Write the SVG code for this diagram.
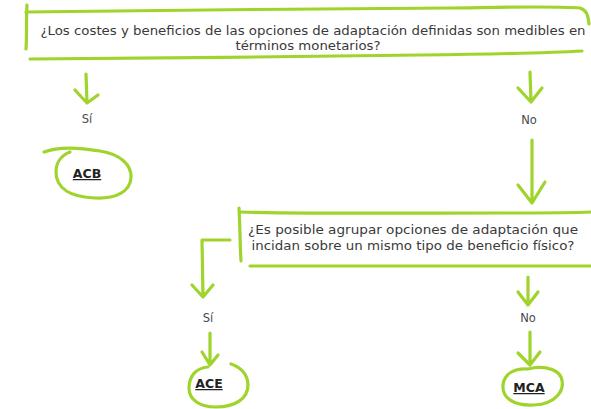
<svg xmlns="http://www.w3.org/2000/svg" width="591" height="409" viewBox="0 0 591 409">
<style>
.ln{fill:none;stroke:#9fd42c;stroke-width:3.2;stroke-linecap:round;stroke-linejoin:round}
.q{font-family:"DejaVu Sans","Liberation Sans",sans-serif;font-size:12.5px;fill:#3a3a3a}
.lb{font-family:"DejaVu Sans","Liberation Sans",sans-serif;font-size:11.5px;fill:#4a4a4a;text-anchor:middle}
.r{font-family:"DejaVu Sans","Liberation Sans",sans-serif;font-size:12.5px;font-weight:bold;fill:#222;text-decoration:underline}
</style>
<rect width="591" height="409" fill="#ffffff"/>
<g id="q1">
<path class="ln" d="M27 5 C26 20 27 35 26 49"/>
<path class="ln" d="M26 12 C150 10 320 9 450 8 C520 7 560 6 580 8 C586 10 588 14 589 24"/>
<path class="ln" d="M30 59 C150 58 300 57 420 55 C500 54 550 53 582 51"/>
<text class="q" x="313" y="35" text-anchor="middle" textLength="545" lengthAdjust="spacingAndGlyphs">¿Los costes y beneficios de las opciones de adaptación definidas son medibles en</text>
<text class="q" x="308" y="50" text-anchor="middle" textLength="145" lengthAdjust="spacingAndGlyphs">términos monetarios?</text>
</g>
<g id="q2">
<path class="ln" d="M239 208 C240 225 240 245 241 261"/>
<path class="ln" d="M240 212 C320 214 420 213 500 213 C540 213 570 213 591 212"/>
<path class="ln" d="M250 266 C350 265 450 265 591 266"/>
<text class="q" x="413" y="234" text-anchor="middle" textLength="330" lengthAdjust="spacingAndGlyphs">¿Es posible agrupar opciones de adaptación que</text>
<text class="q" x="413" y="250" text-anchor="middle" textLength="323" lengthAdjust="spacingAndGlyphs">incidan sobre un mismo tipo de beneficio físico?</text>
</g>
<g id="acb">
<path class="ln" d="M44 152 C60 146 80 148 100 151 C120 154 132 165 131 178 C130 192 115 199 95 198 C70 197 56 188 56 172 C56 162 62 155 70 152"/>
<text class="r" x="87" y="178" text-anchor="middle">ACB</text>
</g>
<g id="ace">
<path class="ln" d="M208 367 C196 368 189 376 189 388 C189 400 200 407 216 407 C236 407 248 398 248 385 C248 374 240 367 231 364"/>
<text class="r" x="209" y="388" text-anchor="middle">ACE</text>
</g>
<g id="mca">
<path class="ln" d="M528 369 C540 366 556 367 561 377 C566 390 556 404 534 405 C512 406 502 397 503 385 C504 374 514 368 528 369"/>
<text class="r" x="529" y="392" text-anchor="middle">MCA</text>
</g>
<g id="connectors">
<path class="ln" d="M86 74 L87 103 M75 90 L87 103 L98 95"/>
<path class="ln" d="M530 72 L531 102 M518 88 L531 102 L542 88"/>
<path class="ln" d="M532 140 L532 203 M518 185 L532 203 L545 182"/>
<path class="ln" d="M230 240 L202 240 L203 297 M192 285 L203 297 L213 285"/>
<path class="ln" d="M210 333 L210 365 M202 352 L210 365 L218 355"/>
<path class="ln" d="M528 277 L528 305 M518 292 L528 305 L538 292"/>
<path class="ln" d="M530 332 L530 365 M518 353 L530 365 L540 352"/>
<text class="lb" x="87" y="123">Sí</text>
<text class="lb" x="529" y="124">No</text>
<text class="lb" x="208" y="322">Sí</text>
<text class="lb" x="528" y="322">No</text>
</g>
</svg>
